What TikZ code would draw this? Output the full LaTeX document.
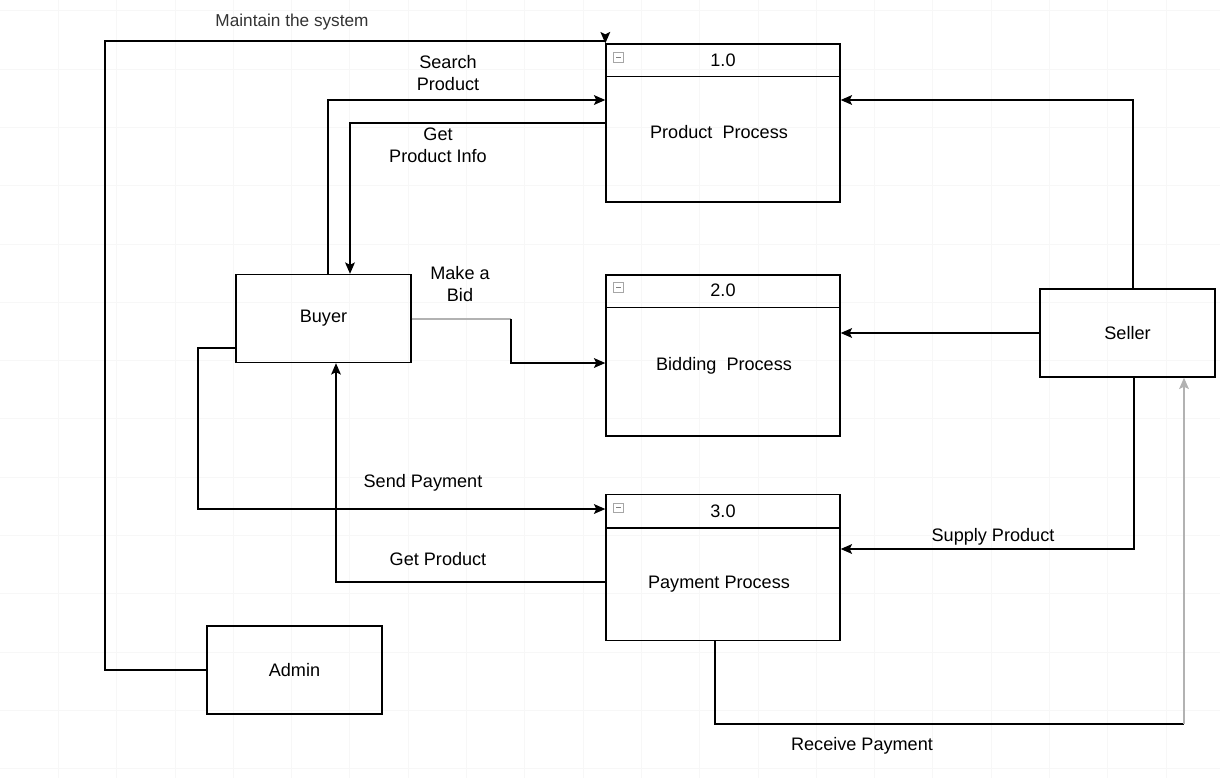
\documentclass[tikz,border=0pt]{standalone}
\usepackage{fontspec}
\setmainfont{Liberation Sans}
\usetikzlibrary{arrows.meta, calc, positioning}

\tikzset{
	entity/.style={draw, line width=0.8pt, minimum width=3.5cm, minimum height=1.76cm, font=\fontsize{10.3}{13}\selectfont},
	procbox/.style={draw, line width=0.8pt, minimum width=4.68cm},
	flow/.style={line width=0.8pt, -{Stealth[length=6.5pt,width=5.6pt,inset=1.4pt]}},
	lite/.style={line width=0.8pt, gray!60},
	txt/.style={font=\fontsize{10.3}{12.5}\selectfont, align=center, inner sep=0pt},
	gridline/.style={black!3, line width=0.4pt},
	minibox/.style={draw=gray!70, line width=0.4pt, minimum size=0.19cm, inner sep=0pt,
		path picture={\draw[gray, line width=0.6pt] ([xshift=0.05cm]path picture bounding box.west) -- ([xshift=-0.05cm]path picture bounding box.east);}}
}

\begin{document}
\begin{tikzpicture}[x=0.02cm, y=-0.02cm]
	\useasboundingbox (0,0) rectangle (1220,778);
	
	% faint background grid
	\foreach \gx in {58.3,116.6,...,1220} \draw[gridline] (\gx,0) -- (\gx,778);
	\foreach \gy in {10.7,69,...,778} \draw[gridline] (0,\gy) -- (1220,\gy);
	
	\coordinate (BuyerC)  at (323.5,318.5);
	\coordinate (SellerC) at (1127.5,333);
	\coordinate (AdminC)  at (294.5,670);
	
	\node[entity] (Buyer)  at (BuyerC)  {Buyer};
	\node[entity] (Seller) at (SellerC) {Seller};
	\node[entity] (Admin)  at (AdminC)  {Admin};
	
	% processes
	\node[procbox, minimum height=3.16cm] (P1) at (723,123)   {};
	\node[procbox, minimum height=3.22cm] (P2) at (723,355.5) {};
	\node[procbox, minimum height=2.92cm] (P3) at (723,567.5) {};
	
	\draw[line width=0.8pt] ($(P1.north west)+(0,33)$) -- ($(P1.north east)+(0,33)$);
	\draw[line width=0.8pt] ($(P2.north west)+(0,33)$) -- ($(P2.north east)+(0,33)$);
	\draw[line width=0.8pt] ($(P3.north west)+(0,34)$) -- ($(P3.north east)+(0,34)$);
	
	\node[minibox] (P1m) at ($(P1.north west)+(13,14)$) {};
	\node[minibox] (P2m) at ($(P2.north west)+(13,13)$) {};
	\node[minibox] (P3m) at ($(P3.north west)+(13,14)$) {};
	
	\node[txt] (P1id) at ($(P1.north)+(0,17)$) {1.0};
	\node[txt] (P2id) at ($(P2.north)+(0,16)$) {2.0};
	\node[txt] (P3id) at ($(P3.north)+(0,17)$) {3.0};
	
	\node[txt] (P1name) at (719,132) {Product~ Process};
	\node[txt] (P2name) at (724,366) {Bidding~ Process};
	\node[txt] (P3name) at (719,584) {Payment Process};
	
	% bends
	\coordinate (MS) at (105,41);
	\coordinate (SP) at (328,100);
	\coordinate (GI) at (350,123);
	\coordinate (MB1) at (511,319);
	\coordinate (MB2) at (511,363);
	\coordinate (SPay1) at (198,348);
	\coordinate (SPay2) at (198,509);
	\coordinate (GP) at (336,582);
	\coordinate (SL) at (1133,100);
	\coordinate (SU) at (1134,549);
	\coordinate (RP1) at (715,724);
	\coordinate (RP2) at (1184,724);
	
	\draw[flow] (Admin.west) -| (MS) -| (P1.north west);
	\draw[flow] (Buyer.north -| SP) |- (P1.west |- SP);
	\draw[flow] (P1.west |- GI) -| (Buyer.north -| GI);
	\draw[lite] (Buyer.east |- MB1) -- (MB1);
	\draw[flow] (MB1) -- (MB2) -- (P2.west |- MB2);
	\draw[flow] (Buyer.west |- SPay1) -| (SPay2) -- (P3.west |- SPay2);
	\draw[flow] (P3.west |- GP) -| (Buyer.south -| GP);
	\draw[flow] (Seller.north -| SL) |- (P1.east |- SL);
	\draw[flow] (Seller.west) -- (P2.east |- Seller.west);
	\draw[flow] (Seller.south -| SU) |- (P3.east |- SU);
	\draw[line width=0.8pt] (P3.south -| RP1) |- (RP2);
	\draw[flow, gray!60] (RP2) -- (Seller.south -| RP2);
	
	% labels
	\node[txt, font=\fontsize{9.8}{12}\selectfont, text=black!80] (Lmaint) at (292,22) {Maintain the system};
	\node[txt] (Lsearch) at (448,73)  {Search\\Product};
	\node[txt] (Linfo)   at (438,145) {Get\\Product Info};
	\node[txt] (Lbid)    at (460,284) {Make a\\Bid};
	\node[txt] (Lsend)   at (423,483) {Send Payment};
	\node[txt] (Lget)    at (438,559) {Get Product};
	\node[txt] (Lsupply) at (993,537) {Supply Product};
	\node[txt] (Lrecv)   at (862,746) {Receive Payment};
\end{tikzpicture}
\end{document}
